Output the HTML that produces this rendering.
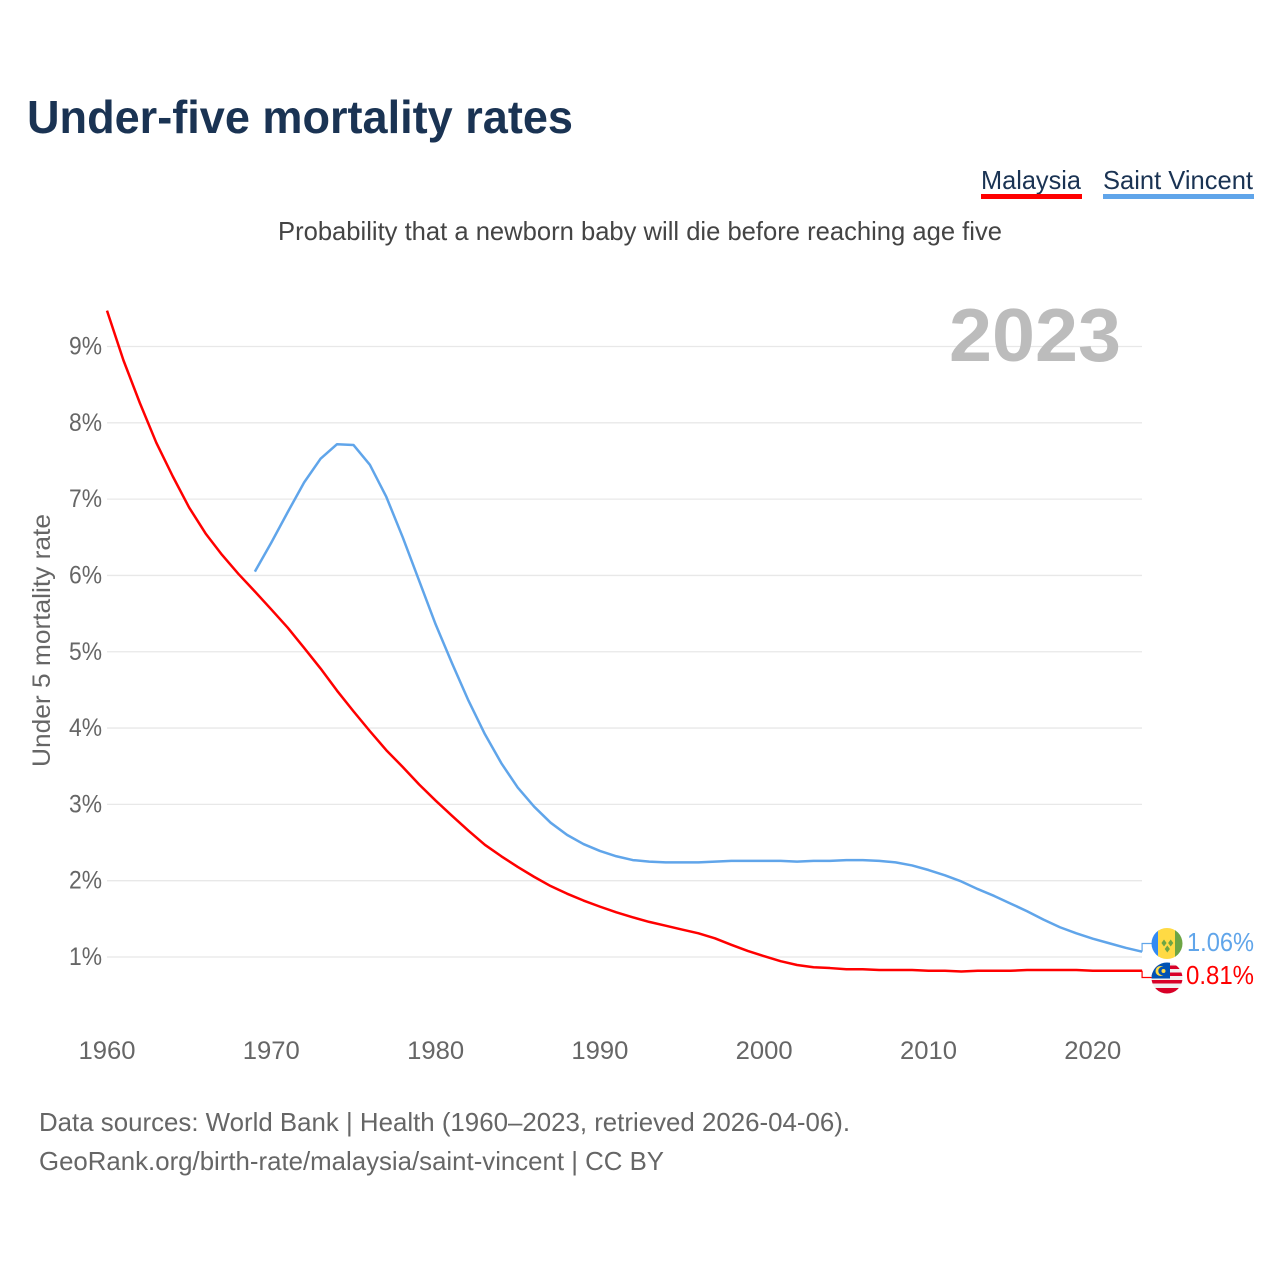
<!DOCTYPE html>
<html lang="en">
<head>
<meta charset="utf-8">
<title>Under-five mortality rates</title>
<style>
html,body{margin:0;padding:0;background:#fff;width:1280px;height:1280px;overflow:hidden}
svg{display:block}
text{font-family:"Liberation Sans",sans-serif}
</style>
</head>
<body>
<svg id="chart" width="1280" height="1280" viewBox="0 0 1280 1280" xmlns="http://www.w3.org/2000/svg">
  <rect width="1280" height="1280" fill="#fff"/>
  <text x="27" y="133" font-size="46" font-weight="700" fill="#1a3353" textLength="546" lengthAdjust="spacingAndGlyphs">Under-five mortality rates</text>
  <g>
    <text x="981" y="189" font-size="26" fill="#1a3353" textLength="100" lengthAdjust="spacingAndGlyphs">Malaysia</text>
    <rect x="981" y="194" width="101" height="5" fill="#ff0000"/>
  </g>
  <g>
    <text x="1103" y="189" font-size="26" fill="#1a3353" textLength="150" lengthAdjust="spacingAndGlyphs">Saint Vincent</text>
    <rect x="1103" y="194" width="151" height="5" fill="#60a5ea"/>
  </g>
  <text x="278" y="240" font-size="26" fill="#444" textLength="724" lengthAdjust="spacingAndGlyphs">Probability that a newborn baby will die before reaching age five</text>
  <g id="grid"></g>
  <text x="949" y="361" font-size="75" font-weight="700" fill="#bcbcbc" textLength="172" lengthAdjust="spacingAndGlyphs">2023</text>
  <g id="yTicks"></g>
  <g id="xTicks"></g>
  <text transform="translate(50,767) rotate(-90)" x="0" y="0" font-size="25" fill="#666" textLength="253" lengthAdjust="spacingAndGlyphs">Under 5 mortality rate</text>
  <path id="lineMalaysia" fill="none" stroke="#ff0000" stroke-width="2.5" stroke-linejoin="round"/>
  <path id="lineVincent" fill="none" stroke="#60a5ea" stroke-width="2.5" stroke-linejoin="round"/>
  <path id="connVincent" fill="none" stroke="#60a5ea" stroke-width="1.2"/>
  <path id="connMalaysia" fill="none" stroke="#ff0000" stroke-width="1.2"/>
  <defs>
    <clipPath id="clipV"><circle cx="1167" cy="943.5" r="15.5"/></clipPath>
    <clipPath id="clipM"><circle cx="1167" cy="978" r="15.5"/></clipPath>
  </defs>
  <g clip-path="url(#clipV)">
    <rect x="1151" y="928" width="8" height="32" fill="#338af3"/>
    <rect x="1158" y="928" width="17" height="32" fill="#ffda44"/>
    <rect x="1175" y="928" width="8" height="32" fill="#6da544"/>
    <path d="M1164 939.5l2.6 3.5-2.6 3.5-2.6-3.5zM1170.7 939.5l2.6 3.5-2.6 3.5-2.6-3.5zM1167.3 945.5l2.6 3.5-2.6 3.5-2.6-3.5z" fill="#6da544"/>
  </g>
  <g clip-path="url(#clipM)">
    <rect x="1151" y="962" width="32" height="32" fill="#f0f0f0"/>
    <rect x="1151" y="965.5" width="32" height="3.5" fill="#d80027"/>
    <rect x="1151" y="972.5" width="32" height="3.5" fill="#d80027"/>
    <rect x="1151" y="980" width="32" height="3.5" fill="#d80027"/>
    <rect x="1151" y="988" width="32" height="6" fill="#d80027"/>
    <rect x="1151" y="962" width="19" height="16.5" fill="#0052b4"/>
    <circle cx="1160.5" cy="971" r="5" fill="#ffda44"/>
    <circle cx="1162.5" cy="971" r="4.2" fill="#0052b4"/>
    <circle cx="1163.5" cy="971" r="2" fill="#ffda44"/>
  </g>
  <text x="1187" y="951" font-size="25.5" fill="#60a5ea" textLength="67" lengthAdjust="spacingAndGlyphs">1.06%</text>
  <text x="1186" y="984" font-size="25.5" fill="#ff0000" textLength="68" lengthAdjust="spacingAndGlyphs">0.81%</text>
  <text x="39" y="1131" font-size="26" fill="#666" textLength="811" lengthAdjust="spacingAndGlyphs">Data sources: World Bank | Health (1960–2023, retrieved 2026-04-06).</text>
  <text x="39" y="1170" font-size="26" fill="#666" textLength="625" lengthAdjust="spacingAndGlyphs">GeoRank.org/birth-rate/malaysia/saint-vincent | CC BY</text>
</svg>
<script>
const malaysiaYears = [1960,1961,1962,1963,1964,1965,1966,1967,1968,1969,1970,1971,1972,1973,1974,1975,1976,1977,1978,1979,1980,1981,1982,1983,1984,1985,1986,1987,1988,1989,1990,1991,1992,1993,1994,1995,1996,1997,1998,1999,2000,2001,2002,2003,2004,2005,2006,2007,2008,2009,2010,2011,2012,2013,2014,2015,2016,2017,2018,2019,2020,2021,2022,2023];
const malaysiaValues = [9.47,8.82,8.26,7.74,7.30,6.89,6.55,6.27,6.02,5.79,5.555,5.315,5.05,4.78,4.49,4.22,3.96,3.71,3.49,3.26,3.05,2.85,2.655,2.47,2.32,2.18,2.05,1.93,1.83,1.74,1.66,1.585,1.52,1.46,1.41,1.36,1.31,1.245,1.16,1.08,1.01,0.945,0.895,0.865,0.855,0.84,0.84,0.83,0.83,0.83,0.82,0.82,0.81,0.82,0.82,0.82,0.83,0.83,0.83,0.83,0.82,0.82,0.82,0.82];
const vincentYears = [1969,1970,1971,1972,1973,1974,1975,1976,1977,1978,1979,1980,1981,1982,1983,1984,1985,1986,1987,1988,1989,1990,1991,1992,1993,1994,1995,1996,1997,1998,1999,2000,2001,2002,2003,2004,2005,2006,2007,2008,2009,2010,2011,2012,2013,2014,2015,2016,2017,2018,2019,2020,2021,2022,2023];
const vincentValues = [6.05,6.43,6.83,7.22,7.53,7.72,7.71,7.45,7.03,6.50,5.93,5.36,4.85,4.36,3.92,3.54,3.22,2.97,2.76,2.60,2.48,2.39,2.32,2.27,2.25,2.24,2.24,2.24,2.25,2.26,2.26,2.26,2.26,2.25,2.26,2.26,2.27,2.27,2.26,2.24,2.20,2.14,2.07,1.99,1.89,1.80,1.70,1.60,1.49,1.39,1.31,1.24,1.18,1.12,1.07];
const xTickLabels = [1960,1970,1980,1990,2000,2010,2020];
const yTickLabels = [1,2,3,4,5,6,7,8,9];

const xScale = year => 107 + (year - 1960) * 16.43;
const yScale = value => 957 - (value - 1) * 76.31;
const NS = 'http://www.w3.org/2000/svg';

const grid = document.getElementById('grid');
const yTicks = document.getElementById('yTicks');
const xTicks = document.getElementById('xTicks');

yTickLabels.forEach(v => {
  const line = document.createElementNS(NS, 'line');
  
  
  line.setAttribute('x1', 107);
  line.setAttribute('x2', 1142);
  line.setAttribute('y1', yScale(v));
  line.setAttribute('y2', yScale(v));
  line.setAttribute('stroke', '#e8e8e8');
  line.setAttribute('stroke-width', '1.3');
  grid.appendChild(line);

  const label = document.createElementNS(NS, 'text');
  
  
  label.setAttribute('x', 69);
  label.setAttribute('y', yScale(v) + 8);
  label.setAttribute('font-size', '25');
  label.setAttribute('fill', '#666');
  label.setAttribute('textLength', '33');
  label.setAttribute('lengthAdjust', 'spacingAndGlyphs');
  label.textContent = v + '%';
  yTicks.appendChild(label);
});

xTickLabels.forEach(y => {
  const label = document.createElementNS(NS, 'text');
  
  
  label.setAttribute('x', xScale(y) - 28.5);
  label.setAttribute('y', 1059);
  label.setAttribute('font-size', '25');
  label.setAttribute('fill', '#666');
  label.setAttribute('textLength', '57');
  label.setAttribute('lengthAdjust', 'spacingAndGlyphs');
  label.textContent = y;
  xTicks.appendChild(label);
});

const linePath = (years, values) => years.map((y, i) => (i ? 'L' : 'M') + xScale(y).toFixed(2) + ' ' + yScale(values[i]).toFixed(2)).join('');
document.getElementById('lineMalaysia').setAttribute('d', linePath(malaysiaYears, malaysiaValues));
document.getElementById('lineVincent').setAttribute('d', linePath(vincentYears, vincentValues));

const endX = xScale(2023);
const vEnd = yScale(vincentValues[vincentValues.length - 1]);
const mEnd = yScale(malaysiaValues[malaysiaValues.length - 1]);
document.getElementById('connVincent').setAttribute('d', 'M' + endX + ' ' + vEnd + 'V943.5H1152');
document.getElementById('connMalaysia').setAttribute('d', 'M' + endX + ' ' + mEnd + 'V977.5H1152');
</script>
</body>
</html>
